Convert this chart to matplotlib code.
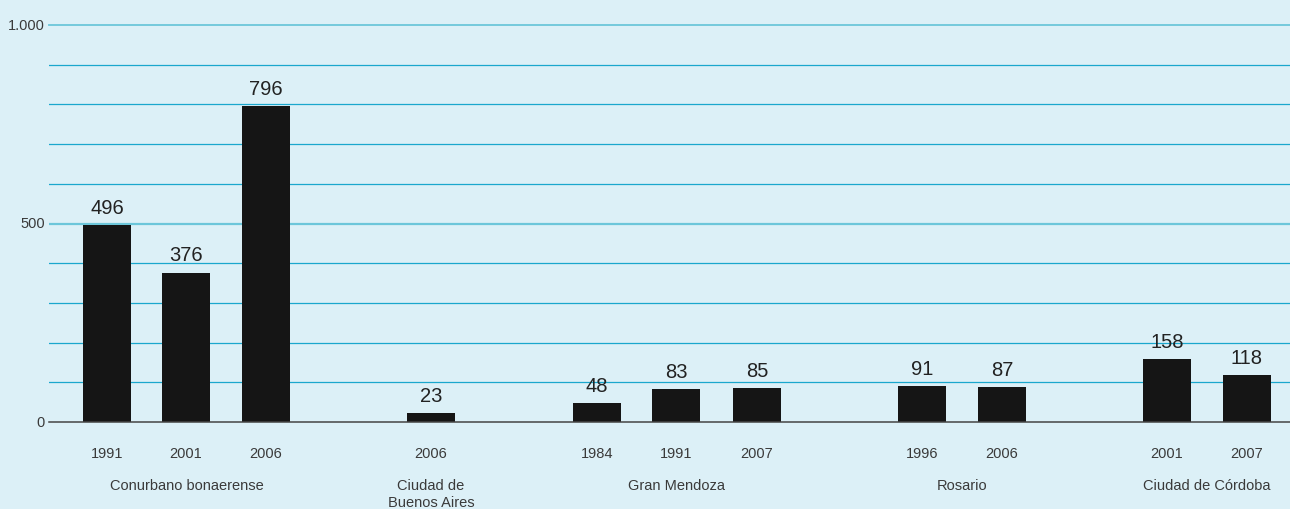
import matplotlib.pyplot as plt
import matplotlib.transforms as mtransforms

plt.rcParams['font.family'] = ['Liberation Sans', 'DejaVu Sans']

# data
years = ['1991', '2001', '2006', '2006', '1984', '1991', '2007', '1996', '2006', '2001', '2007']
values = [496, 376, 796, 23, 48, 83, 85, 91, 87, 158, 118]
groups = ['Conurbano bonaerense', 'Ciudad de\nBuenos Aires', 'Gran Mendoza', 'Rosario', 'Ciudad de Córdoba']
group_members = [[0, 1, 2], [3], [4, 5, 6], [7, 8], [9, 10]]

# layout (x positions in pixel-like units)
xpos = [107, 186, 266, 431, 597, 676, 757, 922, 1002, 1167, 1247]

bg = '#dcf0f7'
grid_c = '#1aa7cd'
grid_mid = '#6cc6da'
txt = '#3a3a3a'

fig = plt.figure(figsize=(12.9, 5.1), dpi=100, facecolor=bg)
ax = fig.add_axes([49 / 1290, 87 / 510, 1 - 49 / 1290, 397 / 510])
ax.set_facecolor(bg)
ax.set_xlim(49, 1290)
ax.set_ylim(0, 1000)

for v in range(100, 1001, 100):
    if v == 500:
        ax.axhline(v, color=grid_mid, lw=1.6, zorder=1)
    elif v == 1000:
        ax.axhline(v, color=grid_mid, lw=1.3, zorder=1, clip_on=False)
    else:
        ax.axhline(v, color=grid_c, lw=0.9, zorder=1)
ax.axhline(0, color='#444444', lw=1.1, zorder=3, clip_on=False)

ax.bar(xpos, values, width=48, color='#151515', zorder=2)

for x, v in zip(xpos, values):
    ax.annotate(str(v), (x, v), xytext=(0, 6), textcoords='offset points',
                ha='center', va='bottom', fontsize=14.5, color='#222222')

for s in ax.spines.values():
    s.set_visible(False)
ax.set_yticks([])
ax.set_xticks(xpos, years)
ax.tick_params(axis='x', length=0, pad=17, labelsize=10.5, labelcolor=txt)

# y labels
ytr = mtransforms.blended_transform_factory(fig.transFigure, ax.transData)
for v, lab in [(0, '0'), (500, '500'), (1000, '1.000')]:
    ax.text(45 / 1290, v, lab, transform=ytr, ha='right', va='center',
            fontsize=10.5, color=txt)

# group labels
gtr = mtransforms.blended_transform_factory(ax.transData, fig.transFigure)
for g, members in zip(groups, group_members):
    cx = (xpos[members[0]] + xpos[members[-1]]) / 2
    ax.text(cx, 1 - 479 / 510, g, transform=gtr, ha='center', va='top',
            fontsize=10.5, color=txt, linespacing=1.25)

fig.savefig('out.png', dpi=100, facecolor=bg)
